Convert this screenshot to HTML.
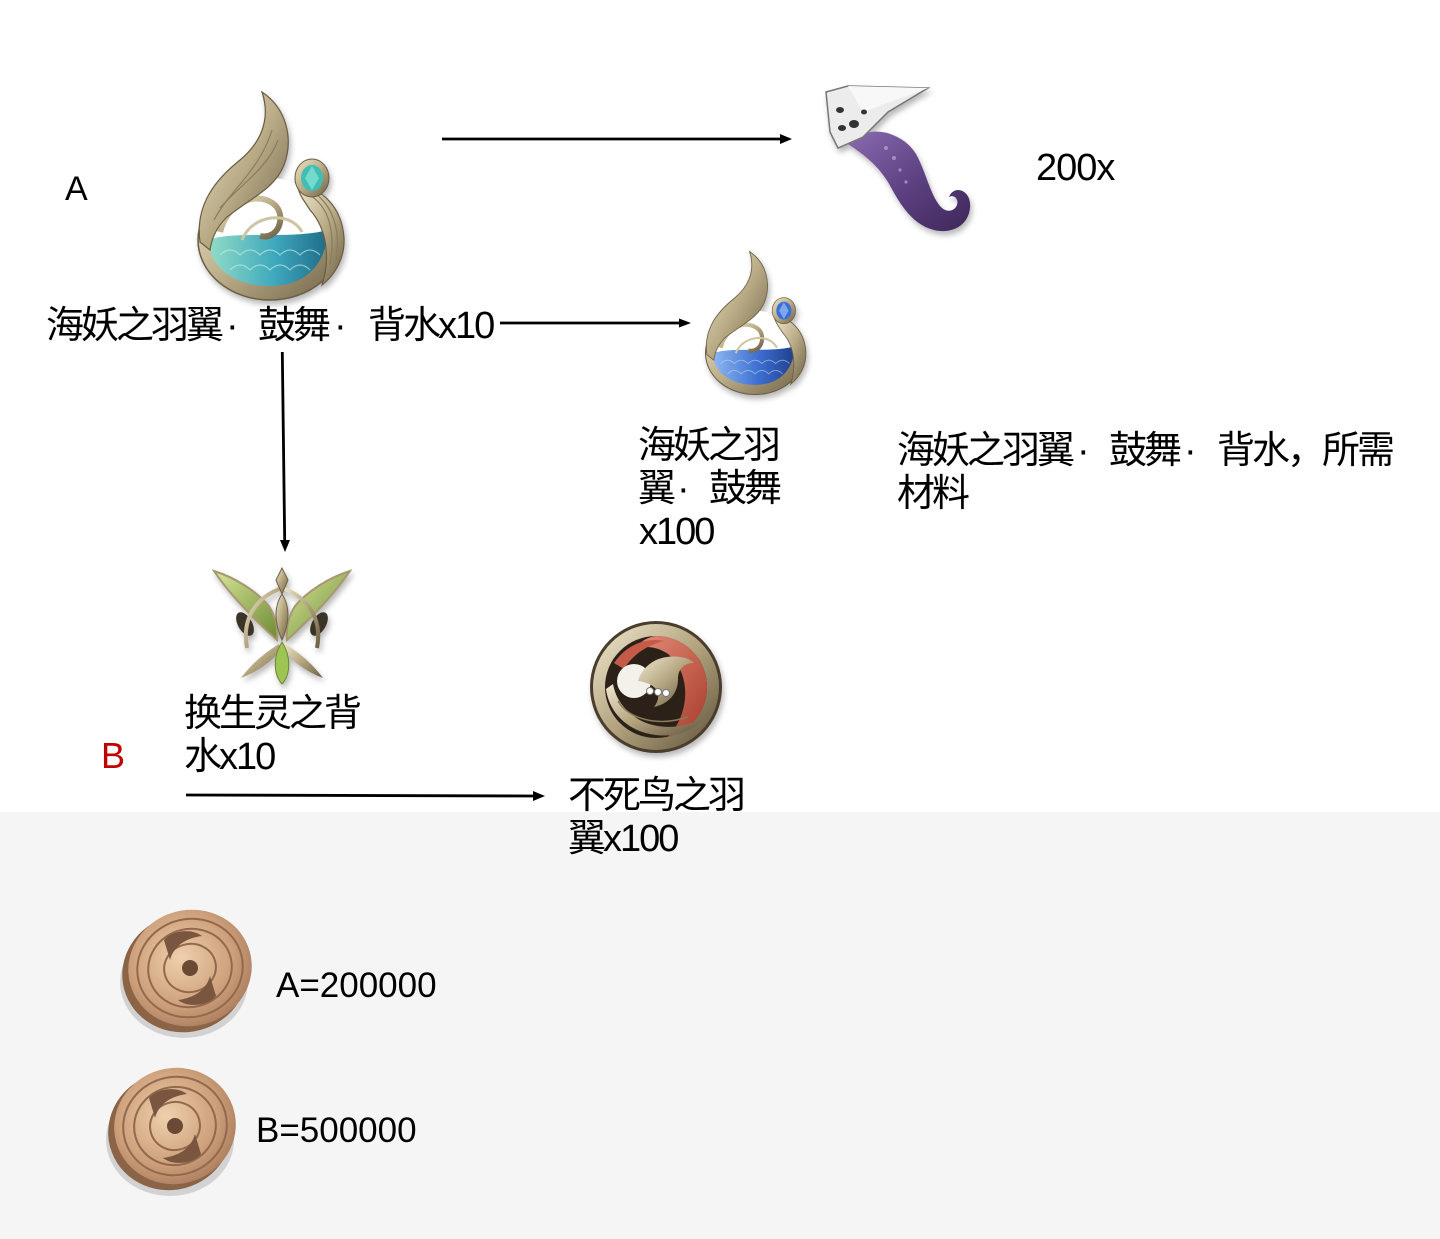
<!DOCTYPE html>
<html>
<head>
<meta charset="utf-8">
<style>
  html,body{margin:0;padding:0;}
  body{width:1440px;height:1239px;position:relative;background:#fff;overflow:hidden;}
  .gray{position:absolute;left:0;top:812px;width:1440px;height:427px;background:#f5f5f5;}
  .t{position:absolute;font-family:"Liberation Sans","Noto Sans CJK SC",sans-serif;font-size:38px;line-height:43px;letter-spacing:-3px;color:#000;white-space:nowrap;}
  .t .l{letter-spacing:-2px;}
  .n{letter-spacing:0;}
  svg{position:absolute;overflow:visible;}
  .ic{filter:drop-shadow(2px 4px 3px rgba(0,0,0,0.28));}
</style>
</head>
<body>
<div class="gray"></div>

<!-- Arrows -->
<svg style="left:0;top:0" width="1440" height="1239" viewBox="0 0 1440 1239">
  <g stroke="#000" stroke-width="2.8" fill="none">
    <line x1="442" y1="139" x2="782" y2="139"/>
    <line x1="500" y1="323" x2="681" y2="323"/>
    <line x1="282.3" y1="352" x2="284.7" y2="541"/>
    <line x1="186" y1="795" x2="535" y2="796"/>
  </g>
  <g fill="#000">
    <polygon points="792,139 780,134 780,144"/>
    <polygon points="691,323 679,318.5 679,327.5"/>
    <polygon points="285,552 280,540 290,540"/>
    <polygon points="545,796 533,791 533,801"/>
  </g>
</svg>

<!-- Big siren pendant (teal) -->
<svg class="ic" style="left:190px;top:90px" width="160" height="212" viewBox="0 0 160 212">
  <defs>
    <linearGradient id="gA" x1="0" y1="0" x2="1" y2="1">
      <stop offset="0" stop-color="#eee6cb"/><stop offset=".5" stop-color="#b9ab86"/><stop offset="1" stop-color="#6d6045"/>
    </linearGradient>
    <linearGradient id="tA" x1="0" y1="0" x2="1" y2="0">
      <stop offset="0" stop-color="#93dcc6"/><stop offset=".55" stop-color="#3fa9bd"/><stop offset="1" stop-color="#1f6b88"/>
    </linearGradient>
  </defs>
  <ellipse cx="80" cy="150" rx="72" ry="60" fill="url(#gA)" stroke="#6a5d42" stroke-width="1.5"/>
  <ellipse cx="80" cy="140" rx="58" ry="52" fill="#fff"/>
  <path d="M18,150 C45,140 100,150 138,140 C136,178 112,196 80,196 C45,196 20,178 18,150 Z" fill="url(#tA)"/>
  <g stroke="#c9f2ec" stroke-width="1.2" fill="none" opacity=".6">
    <path d="M30,165 q10,-10 20,0 q10,-10 20,0 q10,-10 20,0 q10,-10 20,0 q10,-10 20,0"/>
    <path d="M40,180 q10,-10 20,0 q10,-10 20,0 q10,-10 20,0 q10,-10 20,0"/>
  </g>
  <path d="M30,142 C38,110 70,100 86,116 C96,128 88,150 70,146" stroke="url(#gA)" stroke-width="6" fill="none"/>
  <path d="M52,150 C62,124 100,120 112,142" stroke="#cfc4a4" stroke-width="3" fill="none"/>
  <path d="M10,152 C5,115 25,90 50,70 C68,55 82,32 72,2 C96,18 104,48 94,75 C84,100 60,108 36,128 C28,136 22,146 20,160 Z" fill="url(#gA)" stroke="#6a5d42" stroke-width="1.2"/>
  <g stroke="#8a7d5c" stroke-width="1.2" fill="none">
    <path d="M24,130 C40,100 70,80 82,40"/>
    <path d="M30,118 C50,95 78,78 88,50"/>
  </g>
  <path d="M108,98 C132,96 152,118 154,148 C155,168 145,185 132,195 C140,170 138,140 120,120 C115,112 110,106 108,98 Z" fill="url(#gA)" stroke="#6a5d42" stroke-width="1.2"/>
  <g stroke="#8a7d5c" stroke-width="1.2" fill="none">
    <path d="M118,104 C138,115 146,140 140,175"/>
    <path d="M126,104 C146,120 150,145 146,170"/>
  </g>
  <ellipse cx="122" cy="88" rx="17" ry="19" fill="url(#gA)" stroke="#6a5d42" stroke-width="1"/>
  <ellipse cx="122" cy="88" rx="11" ry="13" fill="#3fbfb4"/>
  <path d="M122,76 L129,88 L122,100 L115,88 Z" fill="#8de6d8" opacity=".7"/>
</svg>

<!-- Tentacle -->
<svg class="ic" style="left:818px;top:82px" width="155" height="150" viewBox="0 0 155 150">
  <defs>
    <linearGradient id="pu" x1="0" y1="0" x2="1" y2="1">
      <stop offset="0" stop-color="#8a6bb0"/><stop offset=".5" stop-color="#5e4283"/><stop offset="1" stop-color="#3e2658"/>
    </linearGradient>
  </defs>
  <path d="M30,62 C50,40 85,50 98,72 C108,90 112,112 122,124 C128,131 136,130 139,123 C141,117 136,112 131,115 C136,102 154,108 152,126 C150,145 132,152 116,148 C92,142 80,118 70,100 C60,84 48,74 30,62 Z" fill="url(#pu)"/>
  <g fill="#b9a6d6" opacity=".7">
    <circle cx="68" cy="66" r="2"/><circle cx="76" cy="76" r="2"/><circle cx="82" cy="88" r="1.6"/><circle cx="88" cy="100" r="1.6"/>
  </g>
  <polygon points="8,10 30,4 110,6 70,30 45,55 20,66 12,50" fill="#ececec" stroke="#777" stroke-width="1.5"/>
  <polygon points="30,4 110,6 45,30" fill="#f8f8f8"/>
  <g fill="#333">
    <ellipse cx="22" cy="28" rx="4" ry="3"/><ellipse cx="36" cy="42" rx="5" ry="4"/><ellipse cx="24" cy="46" rx="4" ry="3"/><ellipse cx="46" cy="30" rx="3" ry="2.5"/>
  </g>
</svg>

<!-- Small siren pendant (blue) -->
<svg class="ic" style="left:700px;top:250px" width="110" height="146" viewBox="0 0 160 212">
  <defs>
    <linearGradient id="gB" x1="0" y1="0" x2="1" y2="1">
      <stop offset="0" stop-color="#eee6cb"/><stop offset=".5" stop-color="#b9ab86"/><stop offset="1" stop-color="#6d6045"/>
    </linearGradient>
    <linearGradient id="tB" x1="0" y1="0" x2="1" y2="0">
      <stop offset="0" stop-color="#8fb8f2"/><stop offset=".55" stop-color="#3e70d2"/><stop offset="1" stop-color="#1f3f8c"/>
    </linearGradient>
  </defs>
  <ellipse cx="80" cy="150" rx="72" ry="60" fill="url(#gB)" stroke="#6a5d42" stroke-width="1.5"/>
  <ellipse cx="80" cy="140" rx="58" ry="52" fill="#fff"/>
  <path d="M18,150 C45,140 100,150 138,140 C136,178 112,196 80,196 C45,196 20,178 18,150 Z" fill="url(#tB)"/>
  <g stroke="#c6daf8" stroke-width="1.2" fill="none" opacity=".6">
    <path d="M30,165 q10,-10 20,0 q10,-10 20,0 q10,-10 20,0 q10,-10 20,0 q10,-10 20,0"/>
    <path d="M40,180 q10,-10 20,0 q10,-10 20,0 q10,-10 20,0 q10,-10 20,0"/>
  </g>
  <path d="M30,142 C38,110 70,100 86,116 C96,128 88,150 70,146" stroke="url(#gB)" stroke-width="6" fill="none"/>
  <path d="M52,150 C62,124 100,120 112,142" stroke="#cfc4a4" stroke-width="3" fill="none"/>
  <path d="M10,152 C5,115 25,90 50,70 C68,55 82,32 72,2 C96,18 104,48 94,75 C84,100 60,108 36,128 C28,136 22,146 20,160 Z" fill="url(#gB)" stroke="#6a5d42" stroke-width="1.2"/>
  <path d="M108,98 C132,96 152,118 154,148 C155,168 145,185 132,195 C140,170 138,140 120,120 C115,112 110,106 108,98 Z" fill="url(#gB)" stroke="#6a5d42" stroke-width="1.2"/>
  <ellipse cx="122" cy="88" rx="17" ry="19" fill="url(#gB)" stroke="#6a5d42" stroke-width="1"/>
  <ellipse cx="122" cy="88" rx="11" ry="13" fill="#3a6fd8"/>
  <path d="M122,76 L129,88 L122,100 L115,88 Z" fill="#9cc0f5" opacity=".7"/>
</svg>

<!-- Butterfly -->
<svg class="ic" style="left:211px;top:566px" width="142" height="122" viewBox="0 0 142 122">
  <defs>
    <linearGradient id="gr" x1="0" y1="0" x2="1" y2="1">
      <stop offset="0" stop-color="#d6e69a"/><stop offset="1" stop-color="#6f8a32"/>
    </linearGradient>
    <linearGradient id="gC" x1="0" y1="0" x2="1" y2="1">
      <stop offset="0" stop-color="#eee6cb"/><stop offset=".5" stop-color="#b3a47e"/><stop offset="1" stop-color="#6d6045"/>
    </linearGradient>
  </defs>
  <path d="M66,74 C45,55 20,30 3,5 C25,12 45,25 58,40 C64,50 67,60 66,74 Z" fill="url(#gr)" stroke="#a89870" stroke-width="2"/>
  <path d="M76,74 C97,55 122,30 139,5 C117,12 97,25 84,40 C78,50 75,60 76,74 Z" fill="url(#gr)" stroke="#a89870" stroke-width="2"/>
  <ellipse cx="34" cy="58" rx="7" ry="13" transform="rotate(-30 34 58)" fill="#3a3426"/>
  <ellipse cx="108" cy="58" rx="7" ry="13" transform="rotate(30 108 58)" fill="#3a3426"/>
  <path d="M71,22 C48,30 30,50 36,82" stroke="url(#gC)" stroke-width="4" fill="none"/>
  <path d="M71,22 C94,30 112,50 106,82" stroke="url(#gC)" stroke-width="4" fill="none"/>
  <path d="M68,78 C55,86 42,96 30,112 C46,106 60,96 70,84 Z" fill="url(#gC)"/>
  <path d="M74,78 C87,86 100,96 112,112 C96,106 82,96 72,84 Z" fill="url(#gC)"/>
  <polygon points="71,2 77,14 71,28 65,14" fill="url(#gC)" stroke="#6d6045" stroke-width="1"/>
  <path d="M71,28 C79,40 79,56 71,74 C63,56 63,40 71,28 Z" fill="url(#gC)" stroke="#6d6045" stroke-width="1"/>
  <path d="M71,76 C80,90 80,108 71,118 C62,108 62,90 71,76 Z" fill="#9ec454" stroke="#6a8a2c" stroke-width="1"/>
</svg>

<!-- Phoenix badge -->
<svg class="ic" style="left:588px;top:619px" width="136" height="136" viewBox="0 0 136 136">
  <defs>
    <linearGradient id="gP" x1="0" y1="0" x2="1" y2="1">
      <stop offset="0" stop-color="#f0e8d0"/><stop offset=".5" stop-color="#b3a47e"/><stop offset="1" stop-color="#5e513a"/>
    </linearGradient>
    <linearGradient id="rd" x1="0" y1="0" x2="1" y2="1">
      <stop offset="0" stop-color="#e48c78"/><stop offset="1" stop-color="#a83c2c"/>
    </linearGradient>
  </defs>
  <circle cx="68" cy="68" r="66" fill="#4a3d2c"/>
  <circle cx="68" cy="68" r="63" fill="url(#gP)"/>
  <circle cx="68" cy="68" r="51" fill="#2b2118"/>
  <path d="M68,17 A51,51 0 0 1 119,68 A51,51 0 0 1 80,118 C102,95 104,55 80,35 C70,28 58,26 48,30 C52,22 60,18 68,17 Z" fill="url(#rd)"/>
  <path d="M26,44 C38,26 58,18 76,22 C60,26 45,35 36,50 Z" fill="#c65a48"/>
  <ellipse cx="46" cy="62" rx="17" ry="17" fill="#f4f1ea"/>
  <path d="M50,62 C55,45 72,35 92,38 C100,39 104,42 106,44 C96,44 90,50 90,60 C90,75 80,85 66,88 C74,78 72,65 50,62 Z" fill="url(#gP)"/>
  <path d="M18,70 C22,100 50,120 85,116 C100,114 112,106 118,96 C100,110 70,112 50,100 C35,90 28,80 25,65 Z" fill="url(#gP)"/>
  <path d="M30,82 C40,100 70,108 100,98" stroke="#8a7a58" stroke-width="1.5" fill="none"/>
  <g fill="#fff" stroke="#777" stroke-width="1">
    <circle cx="62" cy="72" r="3.5"/><circle cx="70" cy="73" r="3.5"/><circle cx="78" cy="74" r="3.5"/>
  </g>
</svg>

<!-- Coins -->
<svg style="left:112px;top:900px" width="145" height="145" viewBox="0 0 145 145">
  <defs>
    <radialGradient id="cf" cx=".45" cy=".4" r=".7">
      <stop offset="0" stop-color="#efd0ad"/><stop offset=".6" stop-color="#cc9f7a"/><stop offset="1" stop-color="#a07256"/>
    </radialGradient>
  </defs>
  <ellipse cx="72" cy="82" rx="64" ry="56" fill="rgba(0,0,0,0.14)"/>
  <ellipse cx="73" cy="73" rx="63" ry="59" transform="rotate(-15 73 73)" fill="#8b6347"/>
  <ellipse cx="78" cy="68" rx="62" ry="58" transform="rotate(-15 78 68)" fill="url(#cf)"/>
  <g fill="none" stroke="#93684b" stroke-width="2">
    <ellipse cx="78" cy="68" rx="53" ry="49" transform="rotate(-15 78 68)"/>
    <ellipse cx="78" cy="68" rx="42" ry="39" transform="rotate(-15 78 68)"/>
    <ellipse cx="78" cy="68" rx="26" ry="24" transform="rotate(-15 78 68)"/>
  </g>
  <path d="M52,40 C60,30 80,28 90,36 C75,38 62,45 58,60 Z" fill="#7a5540"/>
  <path d="M104,96 C96,106 76,108 66,100 C81,98 94,91 98,76 Z" fill="#7a5540"/>
  <circle cx="78" cy="68" r="8" fill="#6b4a35"/>
</svg>
<svg style="left:100px;top:1058px" width="145" height="145" viewBox="0 0 145 145">
  <defs>
    <radialGradient id="cf2" cx=".45" cy=".4" r=".7">
      <stop offset="0" stop-color="#efd0ad"/><stop offset=".6" stop-color="#cc9f7a"/><stop offset="1" stop-color="#a07256"/>
    </radialGradient>
  </defs>
  <ellipse cx="70" cy="82" rx="64" ry="56" fill="rgba(0,0,0,0.14)"/>
  <ellipse cx="70" cy="73" rx="62" ry="59" transform="rotate(-15 70 73)" fill="#8b6347"/>
  <ellipse cx="75" cy="68" rx="61" ry="58" transform="rotate(-15 75 68)" fill="url(#cf2)"/>
  <g fill="none" stroke="#93684b" stroke-width="2">
    <ellipse cx="75" cy="68" rx="52" ry="49" transform="rotate(-15 75 68)"/>
    <ellipse cx="75" cy="68" rx="41" ry="39" transform="rotate(-15 75 68)"/>
    <ellipse cx="75" cy="68" rx="25" ry="24" transform="rotate(-15 75 68)"/>
  </g>
  <path d="M49,40 C57,30 77,28 87,36 C72,38 59,45 55,60 Z" fill="#7a5540"/>
  <path d="M101,96 C93,106 73,108 63,100 C78,98 91,91 95,76 Z" fill="#7a5540"/>
  <circle cx="75" cy="68" r="8" fill="#6b4a35"/>
</svg>

<!-- Text -->
<div class="t n" style="left:65px;top:168px;font-size:34px;">A</div>
<div class="t" style="left:1036px;top:147px;letter-spacing:-1px;">200x</div>

<div class="t" style="left:46px;top:305px;">海妖之羽翼</div>
<div class="t" style="left:226px;top:305px;">·</div>
<div class="t" style="left:258px;top:305px;">鼓舞</div>
<div class="t" style="left:334px;top:305px;">·</div>
<div class="t" style="left:368px;top:305px;">背水<span class="l">x10</span></div>

<div class="t" style="left:638px;top:425px;">海妖之羽</div>
<div class="t" style="left:638px;top:468px;">翼</div>
<div class="t" style="left:677px;top:468px;">·</div>
<div class="t" style="left:709px;top:468px;">鼓舞</div>
<div class="t" style="left:639px;top:511px;letter-spacing:-2px;">x100</div>

<div class="t" style="left:897px;top:430px;">海妖之羽翼</div>
<div class="t" style="left:1077px;top:430px;">·</div>
<div class="t" style="left:1109px;top:430px;">鼓舞</div>
<div class="t" style="left:1184px;top:430px;">·</div>
<div class="t" style="left:1217px;top:430px;">背水，所需</div>
<div class="t" style="left:897px;top:473px;">材料</div>

<div class="t" style="left:184px;top:693px;">换生灵之背</div>
<div class="t" style="left:184px;top:736px;">水<span class="l">x10</span></div>
<div class="t n" style="left:101px;top:734px;font-size:36px;color:#c00000;">B</div>

<div class="t" style="left:568px;top:775px;">不死鸟之羽</div>
<div class="t" style="left:568px;top:818px;">翼<span class="l">x100</span></div>

<div class="t n" style="left:276px;top:964px;font-size:35px;">A=200000</div>
<div class="t n" style="left:256px;top:1109px;font-size:35px;">B=500000</div>
</body>
</html>
